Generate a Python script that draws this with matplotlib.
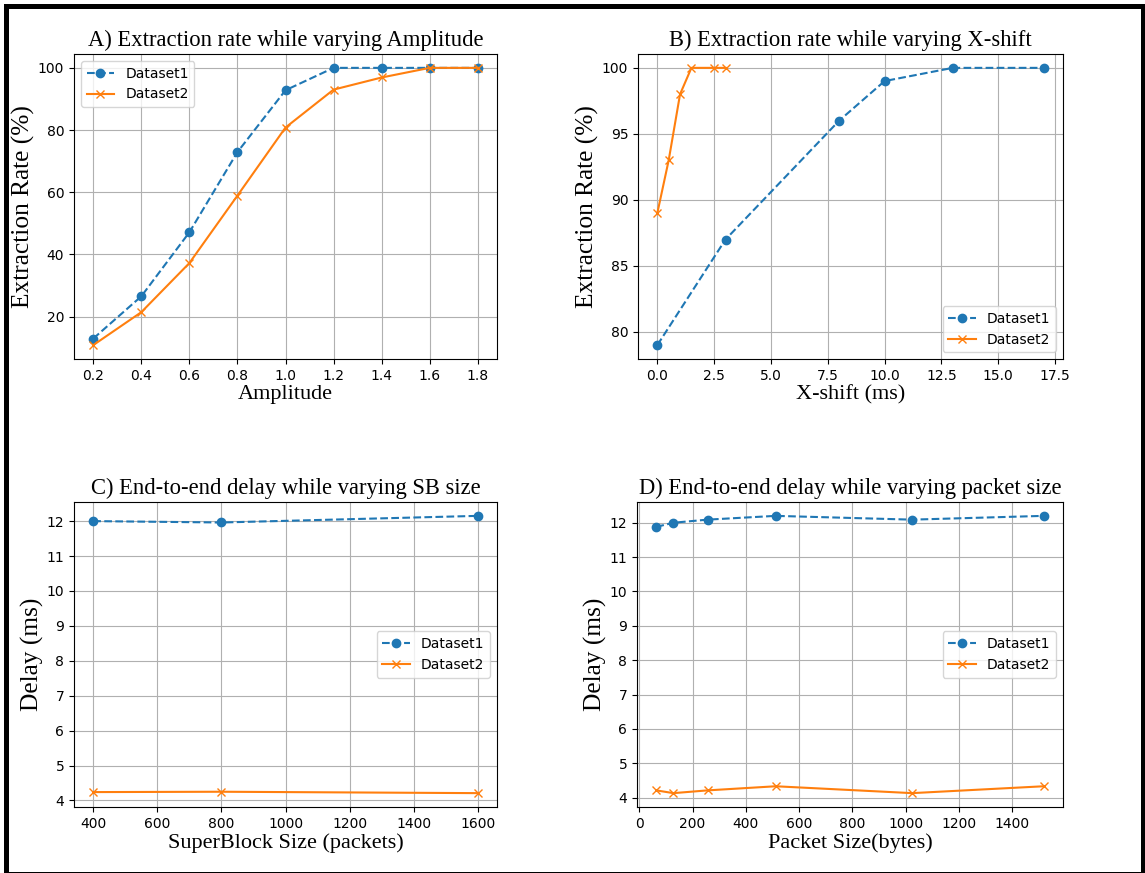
import matplotlib
matplotlib.use('Agg')
import matplotlib.pyplot as plt
from matplotlib.patches import Rectangle

# A) amplitude
amp = [0.2, 0.4, 0.6, 0.8, 1.0, 1.2, 1.4, 1.6, 1.8]
amp_d1 = [12.9, 26.5, 47.1, 72.9, 92.8, 100, 100, 100, 100]
amp_d2 = [10.8, 21.4, 37.2, 58.9, 80.8, 93.0, 96.9, 100, 100]

# B) x-shift
xs_d1 = [0, 3, 8, 10, 13, 17]
xs_d1_y = [79, 87, 96, 99, 100, 100]
xs_d2 = [0, 0.5, 1, 1.5, 2.5, 3]
xs_d2_y = [89, 93, 98, 100, 100, 100]

# C) superblock size
sb = [400, 800, 1600]
sb_d1 = [12.0, 11.96, 12.15]
sb_d2 = [4.24, 4.25, 4.21]

# D) packet size
pk = [64, 128, 256, 512, 1024, 1518]
pk_d1 = [11.88, 12.0, 12.09, 12.2, 12.09, 12.2]
pk_d2 = [4.21, 4.13, 4.21, 4.33, 4.13, 4.33]

serif_t = {'family': 'Liberation Serif', 'size': 16.3}
serif_x = {'family': 'Liberation Serif', 'size': 16}
serif_y = {'family': 'Liberation Serif', 'size': 18.3}

fig = plt.figure(figsize=(11.45, 8.73), dpi=100)
W, H = 1145., 873.
def box(l, t, r, b):
    return [l/W, 1-b/H, (r-l)/W, (b-t)/H]

axA = fig.add_axes(box(74, 54, 497, 359))
axB = fig.add_axes(box(638, 54, 1063, 359))
axC = fig.add_axes(box(74, 502, 497, 807))
axD = fig.add_axes(box(637, 502, 1063, 807))

def panel(ax, x1, y1, x2, y2, title, xl, yl, loc):
    ax.plot(x1, y1, '--o', color='#1f77b4', label='Dataset1')
    ax.plot(x2, y2, '-x', color='#ff7f0e', label='Dataset2')
    ax.grid(True)
    ax.set_title(title, fontdict=serif_t)
    ax.set_xlabel(xl, fontdict=serif_x, labelpad=2)
    ax.set_ylabel(yl, fontdict=serif_y, labelpad=2)
    ax.legend(loc=loc)

panel(axA, amp, amp_d1, amp, amp_d2, 'A) Extraction rate while varying Amplitude',
      'Amplitude', 'Extraction Rate (%)', 'upper left')
panel(axB, xs_d1, xs_d1_y, xs_d2, xs_d2_y, 'B) Extraction rate while varying X-shift',
      'X-shift (ms)', 'Extraction Rate (%)', 'lower right')
panel(axC, sb, sb_d1, sb, sb_d2, 'C) End-to-end delay while varying SB size',
      'SuperBlock Size (packets)', 'Delay (ms)', 'center right')
panel(axD, pk, pk_d1, pk, pk_d2, 'D) End-to-end delay while varying packet size',
      'Packet Size(bytes)', 'Delay (ms)', 'center right')

axC.set_yticks(range(4, 13))
axD.set_yticks(range(4, 13))

# black frame round the figure
fig.patches.append(Rectangle((5.5/W, -1/H), (1142.5-5.5)/W, (873-5.5+1)/H,
                             transform=fig.transFigure, fill=False,
                             edgecolor='black', linewidth=3.6))

plt.savefig('out.png', dpi=100)
